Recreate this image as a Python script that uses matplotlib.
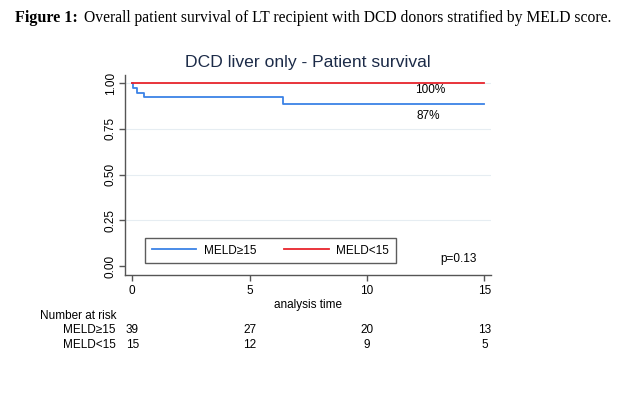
import matplotlib
matplotlib.use("Agg")
import matplotlib.pyplot as plt
import matplotlib.transforms as mtransforms

plt.rcParams['font.family'] = ['Liberation Sans', 'DejaVu Sans']

# Kaplan-Meier step data (time in years, survival)
high_times = [0, 0.05, 0.19, 0.51, 6.43, 15]
high_surv = [1.0, 0.974, 0.949, 0.923, 0.887, 0.887]
low_times = [0, 15]
low_surv = [1.0, 1.0]

risk_times = [0, 5, 10, 15]
risk_high = [39, 27, 20, 13]
risk_low = [15, 12, 9, 5]

blue = '#3b82e6'
red = '#e8242c'
axis_col = '#555555'

fig = plt.figure(figsize=(6.3, 3.94), dpi=100)
W, H = 630, 394

# caption
fig.text(15 / W, 1 - 18 / H, "Figure 1:", fontfamily='Liberation Serif', fontweight='bold',
         fontsize=11.6, va='center', ha='left')
fig.text(84 / W, 1 - 18 / H, "Overall patient survival of LT recipient with DCD donors stratified by MELD score.",
         fontfamily='Liberation Serif', fontsize=11.25, va='center', ha='left')

ax = fig.add_axes([125 / W, 1 - 275 / H, 366 / W, 200 / H])
ax.step(high_times, high_surv, where='post', color=blue, lw=1.3, label='MELD\u226515')
ax.step(low_times, low_surv, where='post', color=red, lw=1.3, label='MELD<15')

ax.set_xlim(-0.31, 15.28)
ax.set_ylim(-0.049, 1.045)
ax.set_xticks([0, 5, 10, 15])
ax.set_yticks([0, 0.25, 0.5, 0.75, 1.0])
ax.set_yticklabels(['0.00', '0.25', '0.50', '0.75', '1.00'], rotation=90, va='center')
for y in [0.25, 0.5, 0.75, 1.0]:
    ax.axhline(y, color='#e6edf2', lw=0.8, zorder=0)

for s in ['top', 'right']:
    ax.spines[s].set_visible(False)
for s in ['left', 'bottom']:
    ax.spines[s].set_color(axis_col)
    ax.spines[s].set_linewidth(1.0)
ax.tick_params(colors=axis_col, labelcolor='black', labelsize=8.5, length=4, width=1.0)
ax.tick_params(axis='y', pad=2)
ax.set_xlabel('analysis time', fontsize=8.5, labelpad=1)

ax.set_title('DCD liver only - Patient survival', fontsize=12.6, color='#1c2b48', pad=6)

ax.text(12.7, 0.965, '100%', fontsize=8.5, ha='center', va='center')
ax.text(12.6, 0.82, '87%', fontsize=8.5, ha='center', va='center')
ax.text(13.9, 0.04, 'p=0.13', fontsize=8.5, ha='center', va='center')

leg = ax.legend(loc='lower left', bbox_to_anchor=(0.055, 0.06), ncol=2, frameon=True,
                fancybox=False, fontsize=8.5, handlelength=3.8, columnspacing=2.4,
                borderpad=0.55, handletextpad=0.6, borderaxespad=0)
leg.get_frame().set_edgecolor('#333333')
leg.get_frame().set_linewidth(1.0)

# number at risk table
trans = mtransforms.blended_transform_factory(ax.transData, fig.transFigure)
fig.text(40 / W, 1 - 316 / H, 'Number at risk', fontsize=8.5, va='center', ha='left')
fig.text(63 / W, 1 - 330 / H, 'MELD\u226515', fontsize=8.5, va='center', ha='left')
fig.text(63 / W, 1 - 345 / H, 'MELD<15', fontsize=8.5, va='center', ha='left')
for t, a, b in zip(risk_times, risk_high, risk_low):
    ax.text(t, 1 - 330 / H, str(a), transform=trans, fontsize=8.5, ha='center', va='center', clip_on=False)
    ax.text(t, 1 - 345 / H, str(b), transform=trans, fontsize=8.5, ha='center', va='center', clip_on=False)

fig.savefig('out.png', dpi=100)
